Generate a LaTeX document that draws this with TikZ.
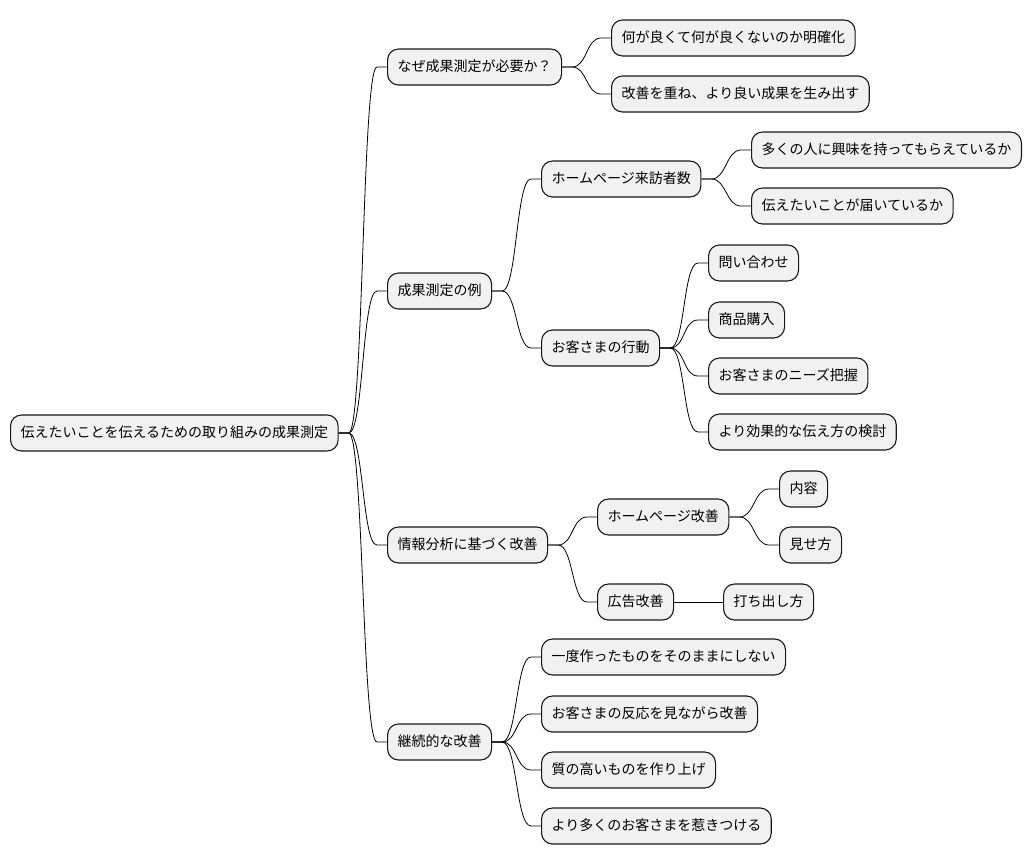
\documentclass[tikz,border=0pt]{standalone}
\usepackage{fontspec}
\setmainfont{Noto Sans CJK JP}
\usetikzlibrary{calc}
\definecolor{boxfill}{HTML}{F1F1F1}
\definecolor{boxline}{HTML}{181818}
\tikzset{
  mmbox/.style={draw=boxline, fill=boxfill, line width=1.1pt, rounded corners=11pt,
    minimum height=36pt, inner xsep=10pt, inner ysep=0pt, anchor=west,
    font=\fontsize{14pt}{16pt}\selectfont, text height=11pt, text depth=2.5pt},
  mmline/.style={draw=black, line width=0.8pt}
}
\newcommand{\mmconn}[2]{\draw[mmline] (#1.east) -- ++(10pt,0) .. controls +(15pt,0) and +(-15pt,0) .. ($(#2.west)+(-10pt,0)$) -- (#2.west);}
\begin{document}
\begin{tikzpicture}[x=1pt,y=-1pt]
\useasboundingbox (0,0) rectangle (1034,865);
% root
\node[mmbox] (r) at (10,433) {伝えたいことを伝えるための取り組みの成果測定};
% level 1
\node[mmbox] (a) at (387,67) {なぜ成果測定が必要か？};
\node[mmbox] (b) at (387,291) {成果測定の例};
\node[mmbox] (c) at (387,545) {情報分析に基づく改善};
\node[mmbox] (d) at (387,742) {継続的な改善};
% level 2
\node[mmbox] (a1) at (611,38) {何が良くて何が良くないのか明確化};
\node[mmbox] (a2) at (611,94) {改善を重ね、より良い成果を生み出す};
\node[mmbox] (b1) at (541,179) {ホームページ来訪者数};
\node[mmbox] (b2) at (541,348) {お客さまの行動};
\node[mmbox] (c1) at (597,517) {ホームページ改善};
\node[mmbox] (c2) at (597,602) {広告改善};
\node[mmbox] (d1) at (541,657) {一度作ったものをそのままにしない};
\node[mmbox] (d2) at (541,714) {お客さまの反応を見ながら改善};
\node[mmbox] (d3) at (541,770) {質の高いものを作り上げ};
\node[mmbox] (d4) at (541,826) {より多くのお客さまを惹きつける};
% level 3
\node[mmbox] (b11) at (751,150) {多くの人に興味を持ってもらえているか};
\node[mmbox] (b12) at (751,206) {伝えたいことが届いているか};
\node[mmbox] (b21) at (708,263) {問い合わせ};
\node[mmbox] (b22) at (708,320) {商品購入};
\node[mmbox] (b23) at (708,376) {お客さまのニーズ把握};
\node[mmbox] (b24) at (708,432) {より効果的な伝え方の検討};
\node[mmbox] (c11) at (779,489) {内容};
\node[mmbox] (c12) at (779,545) {見せ方};
\node[mmbox] (c21) at (723,602) {打ち出し方};
% connectors
\mmconn{r}{a}
\mmconn{r}{b}
\mmconn{r}{c}
\mmconn{r}{d}
\mmconn{a}{a1}
\mmconn{a}{a2}
\mmconn{b}{b1}
\mmconn{b}{b2}
\mmconn{c}{c1}
\mmconn{c}{c2}
\mmconn{d}{d1}
\mmconn{d}{d2}
\mmconn{d}{d3}
\mmconn{d}{d4}
\mmconn{b1}{b11}
\mmconn{b1}{b12}
\mmconn{b2}{b21}
\mmconn{b2}{b22}
\mmconn{b2}{b23}
\mmconn{b2}{b24}
\mmconn{c1}{c11}
\mmconn{c1}{c12}
\draw[mmline] (c2.east) -- (c21.west);
\end{tikzpicture}
\end{document}
